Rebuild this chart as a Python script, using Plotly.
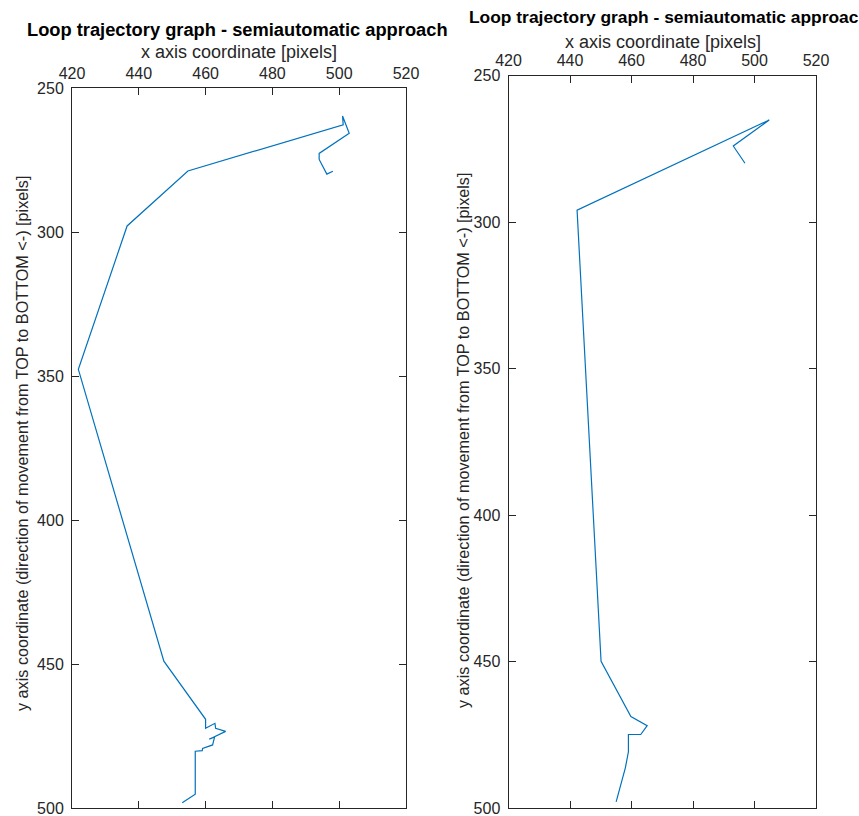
import plotly.graph_objects as go

# Trajectory traced with the semiautomatic approach (two runs)
left_x = [498.1, 496.3, 494.0, 494.0, 503.0, 501.0, 501.2, 454.7, 436.5, 421.9,
          447.5, 460.0, 460.0, 462.8, 463.0, 466.0, 461.1, 462.7, 462.1, 459.1,
          459.0, 456.9, 456.9, 453.0]
left_y = [278.9, 279.9, 274.8, 272.7, 265.7, 259.7, 262.8, 278.8, 297.9, 347.7,
          449.0, 469.2, 472.3, 470.6, 472.3, 473.4, 476.1, 475.3, 478.1, 479.3,
          480.1, 480.3, 495.2, 498.2]

right_x = [496.9, 493.1, 504.8, 442.3, 450.1, 459.8, 465.1, 463.0, 459.0, 459.0,
           458.0, 455.0]
right_y = [279.9, 274.0, 265.1, 295.9, 449.9, 468.8, 471.9, 474.9, 474.9, 480.8,
           486.3, 497.9]

x_ticks = [420, 440, 460, 480, 500, 520]
y_ticks = [250, 300, 350, 400, 450, 500]

title_text = "Loop trajectory graph - semiautomatic approach"
xlabel_text = "x axis coordinate [pixels]"
ylabel_text = "y axis coordinate (direction of movement from TOP to BOTTOM <-) [pixels]"

W, H = 859, 816
FONT = "Liberation Sans, Arial, Helvetica, sans-serif"
AX = "#262626"
LINE = "#0072BD"


def px(x):
    return x / W


def py(y):
    return 1 - y / H


fig = go.Figure()
fig.add_trace(go.Scatter(x=left_x, y=left_y, mode="lines", xaxis="x", yaxis="y",
                         line=dict(color=LINE, width=1.2), showlegend=False))
fig.add_trace(go.Scatter(x=right_x, y=right_y, mode="lines", xaxis="x2", yaxis="y2",
                         line=dict(color=LINE, width=1.2), showlegend=False))

common = dict(showgrid=False, zeroline=False, showline=True, linecolor=AX,
              linewidth=1, mirror="ticks", ticks="inside", ticklen=7,
              tickcolor=AX, automargin=False, ticklabeloverflow="allow",
              tickfont=dict(family=FONT, size=16, color=AX))
common_x = dict(common, range=[420, 520], tickvals=x_ticks, side="top",
                ticklabelstandoff=2)
common_y = dict(common, range=[500, 250], tickvals=y_ticks, ticklabelstandoff=4)

fig.update_layout(
    width=W, height=H,
    margin=dict(l=0, r=0, t=0, b=0),
    paper_bgcolor="white", plot_bgcolor="white",
    xaxis=dict(common_x, domain=[px(72), px(406)], anchor="y"),
    yaxis=dict(common_y, domain=[py(808), py(88)], anchor="x"),
    xaxis2=dict(common_x, domain=[px(508.5), px(816)], anchor="y2"),
    yaxis2=dict(common_y, domain=[py(808), py(75.7)], anchor="x2"),
)

annotations = [
    # left panel
    dict(text="<b>" + title_text + "</b>", x=px(238), y=py(30), xanchor="center",
         yanchor="middle", font=dict(family=FONT, size=18.3, color="black")),
    dict(text=xlabel_text, x=px(239), y=py(52), xanchor="center", yanchor="middle",
         font=dict(family=FONT, size=18, color=AX)),
    dict(text=ylabel_text, x=px(22), y=py(444), xanchor="center", yanchor="middle",
         textangle=-90, font=dict(family=FONT, size=16.2, color=AX)),
    # right panel
    dict(text="<b>" + title_text + "</b>", x=px(467), y=py(17), xanchor="left",
         yanchor="middle", font=dict(family=FONT, size=17.4, color="black")),
    dict(text=xlabel_text, x=px(663), y=py(42), xanchor="center", yanchor="middle",
         font=dict(family=FONT, size=18, color=AX)),
    dict(text=ylabel_text, x=px(463), y=py(441), xanchor="center", yanchor="middle",
         textangle=-90, font=dict(family=FONT, size=16.2, color=AX)),
]
for a in annotations:
    a.update(xref="paper", yref="paper", showarrow=False)
fig.update_layout(annotations=annotations)

fig.write_html("out.html")
